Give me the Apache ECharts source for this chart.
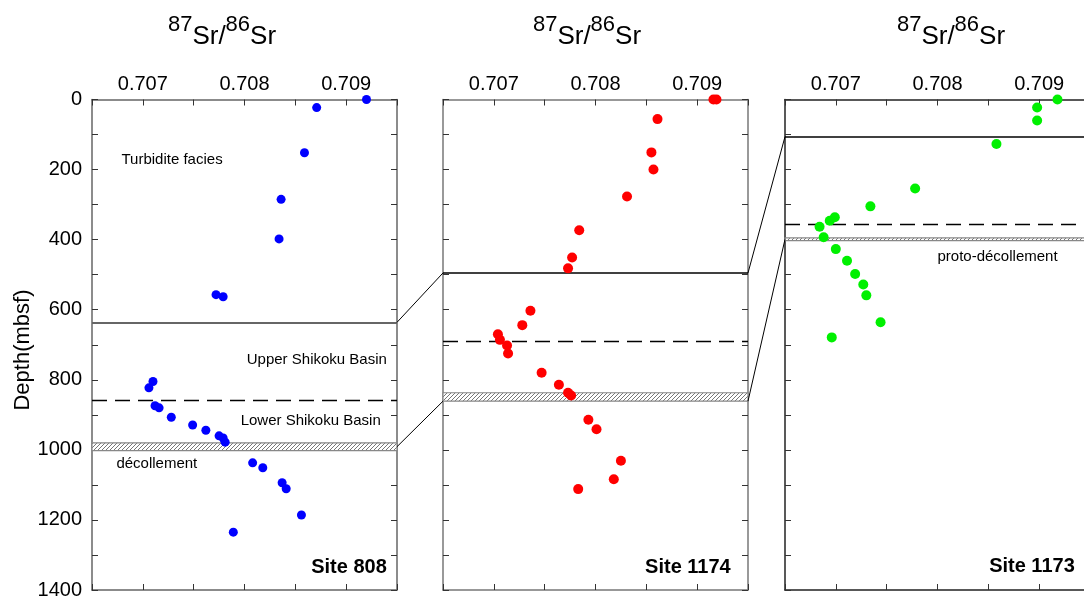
<!DOCTYPE html>
<html>
<head>
<meta charset="utf-8">
<script src="https://cdn.jsdelivr.net/npm/echarts@6/dist/echarts.min.js"></script>
<style>
  html, body { margin: 0; padding: 0; background: #fff; }
  #chart { width: 1084px; height: 603px; }
</style>
</head>
<body>
<div id="chart"></div>
<script>
// 87Sr/86Sr of pore fluids / carbonates against depth (mbsf), three Nankai sites.
const site808Sr    = [0.70920, 0.70871, 0.70859, 0.70836, 0.70834, 0.70772, 0.70779, 0.70710, 0.70706, 0.70712, 0.70716, 0.70728, 0.70749, 0.70762, 0.70775, 0.70779, 0.70781, 0.70808, 0.70818, 0.70837, 0.70841, 0.70856, 0.70789];
const site808Depth = [0, 23, 152, 285, 398, 557, 563, 805, 823, 874, 880, 907, 929, 944, 960, 966, 978, 1037, 1051, 1094, 1111, 1186, 1235];

const site1174Sr    = [0.70916, 0.70919, 0.70861, 0.70855, 0.70857, 0.70831, 0.70784, 0.70777, 0.70773, 0.70736, 0.70728, 0.70704, 0.70706, 0.70713, 0.70714, 0.70747, 0.70764, 0.70773, 0.70776, 0.70793, 0.70801, 0.70825, 0.70818, 0.70783];
const site1174Depth = [0, 0, 56, 151, 200, 277, 373, 451, 482, 603, 644, 670, 686, 702, 725, 780, 814, 837, 845, 914, 941, 1031, 1084, 1112];

const site1173Sr    = [0.70918, 0.70898, 0.70898, 0.70858, 0.70778, 0.70734, 0.70699, 0.70694, 0.70684, 0.70688, 0.70700, 0.70711, 0.70719, 0.70727, 0.70730, 0.70744, 0.70696];
const site1173Depth = [0, 23, 60, 127, 254, 305, 336, 346, 363, 393, 427, 460, 498, 528, 559, 636, 679];

// Unit boundaries (mbsf): top of Shikoku Basin facies, upper/lower boundary, décollement zone
const site808Units  = { facies: 636, lowerSB: 858, decollement: [980, 1002] };
const site1174Units = { facies: 495, lowerSB: 690, decollement: [837, 861] };
const site1173Units = { facies: 106, lowerSB: 356, decollement: [395, 403] };

// Axis ranges and tick labels
const srMin = 0.7065, srMax = 0.7095, srStep = 0.0005;
const srTickLabels = ['0.707', '0.708', '0.709'];
const depthMin = 0, depthMax = 1400, depthStep = 100;
const depthTickLabels = ['0', '200', '400', '600', '800', '1000', '1200', '1400'];

const sites = [
  { name: 'Site 808',  sr: site808Sr,  depth: site808Depth,  units: site808Units,  color: '#0000ff', size: 9 },
  { name: 'Site 1174', sr: site1174Sr, depth: site1174Depth, units: site1174Units, color: '#ff0000', size: 10 },
  { name: 'Site 1173', sr: site1173Sr, depth: site1173Depth, units: site1173Units, color: '#00f000', size: 10 }
];

const FONT = '"Liberation Sans", Arial, Helvetica, sans-serif';
const CHART_W = 1084;
const panelLeft = [92, 443, 785];
const panelWidth = 305;
const panelTop = 99.5, panelHeight = 490.5;
const frameColor = ['#666', '#777', '#222'];

// diagonal hatch used for the décollement band
function hatchPattern() {
  const c = document.createElement('canvas');
  c.width = 4; c.height = 4;
  const g = c.getContext('2d');
  g.fillStyle = '#fff'; g.fillRect(0, 0, 4, 4);
  g.strokeStyle = '#777'; g.lineWidth = 1;
  g.beginPath();
  g.moveTo(-1, 5); g.lineTo(5, -1);
  g.moveTo(-1, 1); g.lineTo(1, -1);
  g.moveTo(3, 5); g.lineTo(5, 3);
  g.stroke();
  return c;
}
const hatch = hatchPattern();

function srLabel(v) {
  const s = v.toFixed(3);
  return (Math.abs(v * 1000 - Math.round(v * 1000)) < 1e-6 && srTickLabels.includes(s)) ? s : '';
}
function depthLabel(v) {
  const s = String(Math.round(v));
  return depthTickLabels.includes(s) ? s : '';
}

const grids = [], xAxes = [], yAxes = [], series = [];
sites.forEach((site, p) => {
  // the last panel runs a few pixels past the right edge of the page
  grids.push({ left: panelLeft[p], width: panelWidth, top: panelTop, height: panelHeight,
               containLabel: false, outerBoundsMode: 'none' });
  const lineStyle = { color: frameColor[p], width: 1.5 };
  ['top', 'bottom'].forEach(pos => {
    xAxes.push({
      gridIndex: p, type: 'value', position: pos,
      min: srMin, max: srMax, interval: srStep,
      axisLine: { show: true, onZero: false, lineStyle },
      axisTick: { show: true, inside: true, length: 6, lineStyle: { color: '#333', width: 1 } },
      axisLabel: { show: pos === 'top', formatter: srLabel, fontSize: 20, color: '#000', fontFamily: FONT, margin: 5, hideOverlap: false },
      splitLine: { show: false }
    });
  });
  ['left', 'right'].forEach(pos => {
    yAxes.push({
      gridIndex: p, type: 'value', position: pos, inverse: true,
      min: depthMin, max: depthMax, interval: depthStep,
      axisLine: { show: true, onZero: false, lineStyle },
      axisTick: { show: true, inside: true, length: 6, lineStyle: { color: '#333', width: 1 } },
      axisLabel: { show: pos === 'left' && p === 0, formatter: depthLabel, fontSize: 20, color: '#000', fontFamily: FONT, margin: 10 },
      splitLine: { show: false }
    });
  });
  const u = site.units;
  series.push({
    type: 'scatter', name: site.name,
    xAxisIndex: 2 * p, yAxisIndex: 2 * p,
    symbol: 'circle', symbolSize: site.size,
    itemStyle: { color: site.color, opacity: 1 },
    data: site.sr.map((v, i) => [v, site.depth[i]]),
    z: 5,
    markLine: {
      silent: true, symbol: 'none', label: { show: false }, animation: false,
      data: [
        { yAxis: u.facies, lineStyle: { type: 'solid', color: p === 0 ? '#666' : '#000', width: p === 0 ? 2 : 1.5 } },
        { yAxis: u.lowerSB, lineStyle: { type: [15, 8], color: '#000', width: 1.3 } }
      ]
    },
    markArea: {
      silent: true, animation: false,
      itemStyle: { color: { image: hatch, repeat: 'repeat' }, borderColor: '#888', borderWidth: 1.2 },
      data: [[{ yAxis: u.decollement[0] }, { yAxis: u.decollement[1] }]]
    }
  });
});

const chart = echarts.init(document.getElementById('chart'), null, { renderer: 'canvas' });
chart.setOption({
  animation: false,
  backgroundColor: '#fff',
  grid: grids, xAxis: xAxes, yAxis: yAxes, series: series
});

function px(p, sr, depth) {
  return chart.convertToPixel({ xAxisIndex: 2 * p, yAxisIndex: 2 * p }, [sr, depth]);
}

// Correlation lines between neighbouring sites
const links = [
  [0, sites[0].units.facies, 1, sites[1].units.facies],
  [0, (sites[0].units.decollement[0] + sites[0].units.decollement[1]) / 2, 1, sites[1].units.decollement[1]],
  [1, sites[1].units.facies, 2, sites[2].units.facies],
  [1, sites[1].units.decollement[1], 2, (sites[2].units.decollement[0] + sites[2].units.decollement[1]) / 2]
];

// Annotations placed in data coordinates of each panel
const notes = [
  { p: 0, text: 'Turbidite facies',     sr: 0.70679, depth: 173,  align: 'left',  size: 15, bold: false },
  { p: 0, text: 'Upper Shikoku Basin',  sr: 0.70940, depth: 743,  align: 'right', size: 15, bold: false },
  { p: 0, text: 'Lower Shikoku Basin',  sr: 0.70934, depth: 917,  align: 'right', size: 15, bold: false },
  { p: 0, text: 'décollement',          sr: 0.70674, depth: 1041, align: 'left',  size: 15, bold: false },
  { p: 0, text: 'Site 808',             sr: 0.70940, depth: 1337, align: 'right', size: 20, bold: true },
  { p: 1, text: 'Site 1174',            sr: 0.70933, depth: 1335, align: 'right', size: 20, bold: true },
  { p: 2, text: 'proto-décollement',    sr: 0.70800, depth: 449,  align: 'left',  size: 15, bold: false },
  { p: 2, text: 'Site 1173',            sr: 0.70935, depth: 1333, align: 'right', size: 20, bold: true }
];

const graphics = [];
links.forEach(([pa, da, pb, db]) => {
  const a = px(pa, srMax, da), b = px(pb, srMin, db);
  graphics.push({ type: 'line', silent: true, z: 10, shape: { x1: a[0], y1: a[1], x2: b[0], y2: b[1] }, style: { stroke: '#000', lineWidth: 1 } });
});
notes.forEach(n => {
  const q = px(n.p, n.sr, n.depth);
  graphics.push({ type: 'text', silent: true, z: 10, x: q[0], y: q[1], style: {
    text: n.text, fill: '#000', align: n.align, verticalAlign: 'middle',
    font: (n.bold ? 'bold ' : '') + n.size + 'px ' + FONT } });
});
// 87Sr/86Sr axis titles above each panel
const titleCenters = [222, 587, 951];
titleCenters.forEach(cx => {
  graphics.push({ type: 'text', silent: true, x: cx, y: 14, style: {
    text: '{s|87}{b|Sr/}{s|86}{b|Sr}', align: 'center', verticalAlign: 'top', fill: '#000',
    rich: {
      s: { fontSize: 22, fontFamily: FONT, lineHeight: 22, verticalAlign: 'top', fill: '#000' },
      b: { fontSize: 26, fontFamily: FONT, lineHeight: 36, verticalAlign: 'bottom', fill: '#000' }
    } } });
});
// depth axis name
graphics.push({ type: 'text', silent: true, x: 23, y: 350, rotation: Math.PI / 2, style: {
  text: 'Depth(mbsf)', align: 'center', verticalAlign: 'middle', fill: '#000', font: '22px ' + FONT } });

chart.setOption({ graphic: graphics });
</script>
</body>
</html>
